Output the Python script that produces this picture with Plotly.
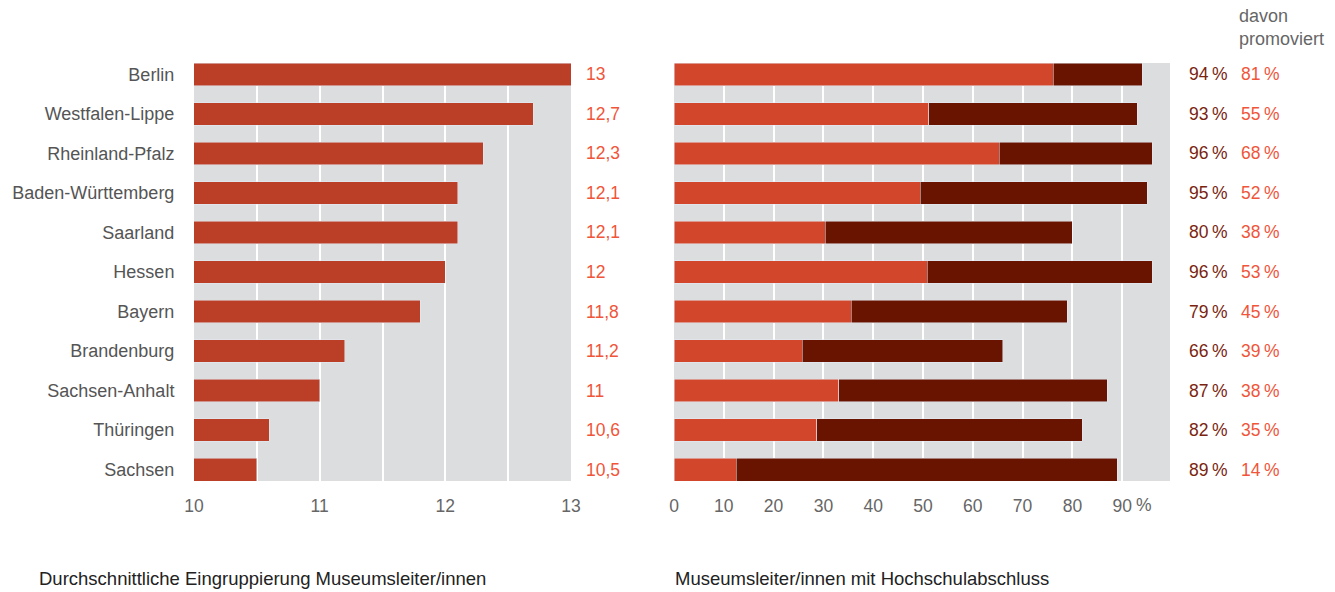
import plotly.graph_objects as go

states = ["Berlin", "Westfalen-Lippe", "Rheinland-Pfalz", "Baden-Württemberg", "Saarland",
          "Hessen", "Bayern", "Brandenburg", "Sachsen-Anhalt", "Thüringen", "Sachsen"]
eingruppierung = [13, 12.7, 12.3, 12.1, 12.1, 12, 11.8, 11.2, 11, 10.6, 10.5]
hochschule = [94, 93, 96, 95, 80, 96, 79, 66, 87, 82, 89]
promoviert = [81, 55, 68, 52, 38, 53, 45, 39, 38, 35, 14]
left_ticks = [10, 11, 12, 13]
right_ticks = [0, 10, 20, 30, 40, 50, 60, 70, 80, 90]

W, H = 1335, 592
FONT = "Liberation Sans, Arial, sans-serif"
GRAY_BG = "#dcdddf"
C_LEFT = "#bb3e26"
C_LIGHT = "#d2462b"
C_DARK = "#681400"
C_VAL = "#f0553a"
C_DVAL = "#7a2410"
NUM_SIZE = 17.5
TXT_SIZE = 18


def fmt(v):
    return ("%g" % v).replace(".", ",")


prom_part = [h * p / 100 for h, p in zip(hochschule, promoviert)]
rest_part = [h - pp for h, pp in zip(hochschule, prom_part)]

fig = go.Figure()
fig.add_trace(go.Bar(y=states, x=eingruppierung, orientation="h", marker_color=C_LEFT,
                     xaxis="x", yaxis="y", showlegend=False))
fig.add_trace(go.Bar(y=states, x=prom_part, orientation="h", marker_color=C_LIGHT,
                     xaxis="x2", yaxis="y2", showlegend=False))
fig.add_trace(go.Bar(y=states, x=rest_part, orientation="h", marker_color=C_DARK,
                     xaxis="x2", yaxis="y2", showlegend=False))

ydom = [(H - 481) / H, (H - 63) / H]
yrange = [len(states) - 1 + 0.29, -0.29]
ax_common = dict(showgrid=True, gridcolor="white", gridwidth=2, zeroline=False,
                 ticks="outside", ticklen=9, tickcolor="rgba(0,0,0,0)", automargin=False,
                 tickfont=dict(size=NUM_SIZE, color="#666", family=FONT), showline=False,
                 fixedrange=True)

fig.update_layout(
    width=W, height=H, margin=dict(l=0, r=0, t=0, b=0, autoexpand=False),
    paper_bgcolor="white", plot_bgcolor=GRAY_BG, barmode="stack", bargap=0.42,
    font=dict(family=FONT),
    xaxis=dict(domain=[194 / W, 571 / W], range=[10, 13], tickvals=left_ticks,
               ticktext=[str(t) for t in left_ticks],
               minor=dict(dtick=0.5, showgrid=True, gridcolor="white", gridwidth=2, ticklen=0),
               **ax_common),
    yaxis=dict(domain=ydom, anchor="x", range=yrange, ticks="outside", ticklen=15,
               tickcolor="rgba(0,0,0,0)", tickfont=dict(size=TXT_SIZE, color="#555", family=FONT),
               showgrid=False, fixedrange=True, automargin=False),
    xaxis2=dict(domain=[674 / W, 1170 / W], range=[0, 99.6], anchor="y2", tickvals=right_ticks,
                ticktext=[str(t) for t in right_ticks], **ax_common),
    yaxis2=dict(domain=ydom, anchor="x2", range=yrange, showticklabels=False,
                showgrid=False, fixedrange=True, automargin=False),
)

ann = []
for s, v in zip(states, eingruppierung):
    ann.append(dict(x=13, y=s, xref="x", yref="y", text=fmt(v), showarrow=False, xanchor="left",
                    xshift=13, font=dict(size=NUM_SIZE, color=C_VAL, family=FONT)))
for s, h, p in zip(states, hochschule, promoviert):
    ann.append(dict(x=1187 / W, y=s, xref="paper", yref="y2", text=f"{h}\u2009%", showarrow=False,
                    xanchor="left", font=dict(size=NUM_SIZE, color=C_DVAL, family=FONT)))
    ann.append(dict(x=1239 / W, y=s, xref="paper", yref="y2", text=f"{p}\u2009%", showarrow=False,
                    xanchor="left", font=dict(size=NUM_SIZE, color=C_VAL, family=FONT)))
ann.append(dict(x=1237 / W, y=1 - 27 / H, xref="paper", yref="paper", text="davon<br>promoviert",
                showarrow=False, xanchor="left", yanchor="middle", align="left",
                font=dict(size=TXT_SIZE, color="#666", family=FONT)))
ann.append(dict(x=90, y=ydom[0], xref="x2", yref="paper", text="%", showarrow=False,
                xanchor="left", yanchor="top", xshift=12, yshift=-12,
                font=dict(size=NUM_SIZE, color="#666", family=FONT)))
ann.append(dict(x=37 / W, y=1 - 578 / H, xref="paper", yref="paper",
                text="Durchschnittliche Eingruppierung Museumsleiter/innen", showarrow=False,
                xanchor="left", yanchor="middle", font=dict(size=18.5, color="#222", family=FONT)))
ann.append(dict(x=673 / W, y=1 - 578 / H, xref="paper", yref="paper",
                text="Museumsleiter/innen mit Hochschulabschluss", showarrow=False,
                xanchor="left", yanchor="middle", font=dict(size=18.5, color="#222", family=FONT)))
fig.update_layout(annotations=ann)

fig.write_html("out.html")
